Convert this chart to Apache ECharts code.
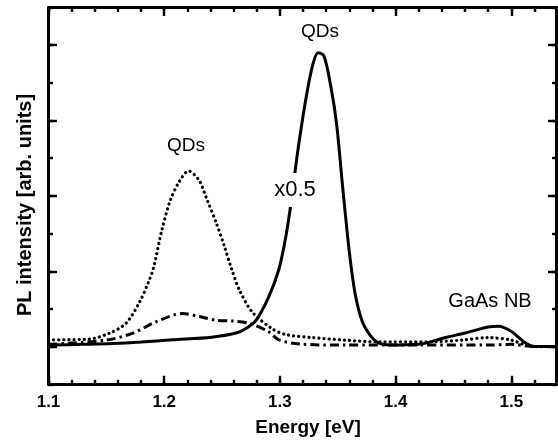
<!DOCTYPE html>
<html>
<head>
<meta charset="utf-8">
<script src="https://cdn.jsdelivr.net/npm/echarts@6/dist/echarts.min.js"></script>
<style>
html,body{margin:0;padding:0;background:#fff;}
#chart{width:558px;height:445px;}
</style>
</head>
<body>
<div id="chart"></div>
<script>
// Energy (eV) and intensity (arb. units)
const solidX = [1.100,1.130,1.155,1.180,1.207,1.241,1.262,1.271,1.279,1.290,1.299,1.305,1.310,1.315,1.322,1.328,1.333,1.338,1.344,1.349,1.354,1.360,1.365,1.371,1.378,1.385,1.395,1.420,1.443,1.460,1.480,1.489,1.500,1.512,1.520,1.539];
const solidY = [0.02,0.03,0.04,0.06,0.09,0.125,0.18,0.245,0.34,0.65,1.02,1.45,1.95,2.55,3.25,3.72,3.90,3.86,3.45,2.95,2.15,1.25,0.70,0.34,0.15,0.05,0.02,0.03,0.12,0.18,0.26,0.27,0.20,0.05,0.0,0.0];

const dottedX = [1.100,1.135,1.153,1.167,1.179,1.187,1.191,1.198,1.205,1.213,1.221,1.230,1.237,1.245,1.252,1.258,1.265,1.276,1.293,1.305,1.328,1.356,1.385,1.428,1.457,1.480,1.500,1.512,1.520,1.539];
const dottedY = [0.09,0.10,0.18,0.31,0.60,0.88,1.06,1.55,1.93,2.19,2.33,2.21,1.95,1.64,1.33,1.04,0.75,0.46,0.24,0.16,0.12,0.086,0.064,0.064,0.086,0.12,0.086,0.02,0.0,0.0];

const dashDotX = [1.100,1.150,1.173,1.193,1.216,1.230,1.245,1.259,1.273,1.290,1.299,1.317,1.356,1.420,1.480,1.500,1.520,1.539];
const dashDotY = [0.03,0.086,0.18,0.33,0.44,0.40,0.35,0.34,0.31,0.20,0.09,0.035,0.02,0.02,0.02,0.03,0.0,0.0];

const xTickLabels = [1.1,1.2,1.3,1.4,1.5];
const yMajorTicks = [0,1,2,3,4];

const xName = 'Energy [eV]';
const yName = 'PL intensity [arb. units]';
const annotations = [
  {text:'QDs', x:186, y:146, size:19, bg:false},
  {text:'x0.5', x:295, y:190, size:22, bg:true},
  {text:'QDs', x:320, y:32, size:19, bg:false},
  {text:'GaAs NB', x:490, y:301, size:20, bg:false}
];

const FONT = '"Liberation Sans", Arial, Helvetica, sans-serif';
const X_MIN = 1.1, X_MAX = 1.539, Y_MIN = -0.5, Y_MAX = 4.5;

const zip = (xs, ys) => xs.map((x, i) => [x, ys[i]]);

const gridRect = {left:48.5, right:1.5, top:7.5, bottom:60.7};
const lineStyle = {color:'#000', width:3};
const tickStyle = {color:'#000', width:2.4};

function xAx(gridIndex, position, major) {
  return {
    type:'value', gridIndex, position, min:X_MIN, max:X_MAX,
    interval:0.02,
    axisLine:{show:!major, onZero:false, lineStyle},
    axisTick:major ? {show:true, inside:true, length:8.5, lineStyle:tickStyle, customValues:xTickLabels}
                   : {show:true, inside:true, length:4.5, lineStyle:tickStyle},
    axisLabel:(!major && position === 'bottom') ? {
      show:true, customValues:xTickLabels, margin:10,
      formatter:v => v.toFixed(1),
      color:'#000', fontFamily:FONT, fontWeight:'bold', fontSize:17
    } : {show:false},
    splitLine:{show:false}
  };
}
function yAx(gridIndex, position, major) {
  return {
    type:'value', gridIndex, position, min:Y_MIN, max:Y_MAX,
    interval:0.5,
    axisLine:{show:!major, onZero:false, lineStyle},
    axisTick:major ? {show:true, inside:true, length:8.5, lineStyle:tickStyle, customValues:yMajorTicks}
                   : {show:true, inside:true, length:4.5, lineStyle:tickStyle},
    axisLabel:{show:false},
    splitLine:{show:false}
  };
}

const chart = echarts.init(document.getElementById('chart'), null, {renderer:'canvas'});
chart.setOption({
  backgroundColor:'#fff',
  animation:false,
  grid:[Object.assign({}, gridRect), Object.assign({}, gridRect)],
  xAxis:[xAx(0,'bottom',false), xAx(0,'top',false), xAx(1,'bottom',true), xAx(1,'top',true)],
  yAxis:[yAx(0,'left',false), yAx(0,'right',false), yAx(1,'left',true), yAx(1,'right',true)],
  series:[
    {type:'line', xAxisIndex:0, yAxisIndex:0, data:zip(dottedX, dottedY), smooth:0.3, showSymbol:false,
     lineStyle:{color:'#000', width:3.2, type:[0.1,5], cap:'round'}},
    {type:'line', xAxisIndex:0, yAxisIndex:0, data:zip(dashDotX, dashDotY), smooth:0.3, showSymbol:false,
     lineStyle:{color:'#000', width:3, type:[9,4,2.5,4], cap:'butt'}},
    {type:'line', xAxisIndex:0, yAxisIndex:0, data:zip(solidX, solidY), smooth:0.3, showSymbol:false,
     lineStyle:{color:'#000', width:3}}
  ],
  graphic:[
    {type:'text', x:308, y:428, style:{text:xName, font:'bold 19px ' + FONT, fill:'#000', align:'center', verticalAlign:'middle'}},
    {type:'text', x:25, y:205, rotation:Math.PI/2, style:{text:yName, font:'bold 20px ' + FONT, fill:'#000', align:'center', verticalAlign:'middle'}}
  ].concat(annotations.map(a => ({
    type:'text', x:a.x, y:a.y, z:100,
    style:Object.assign({text:a.text, font:a.size + 'px ' + FONT, fill:'#000', align:'center', verticalAlign:'middle'},
      a.bg ? {backgroundColor:'#fff', padding:[6,1,6,1]} : {})
  })))
});
</script>
</body>
</html>
